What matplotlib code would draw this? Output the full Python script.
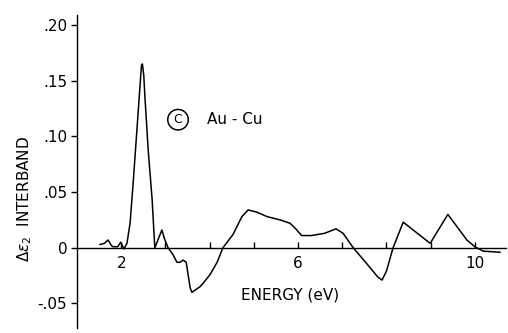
import matplotlib
matplotlib.use("Agg")
import matplotlib.pyplot as plt

# interband difference spectrum, Au-Cu
energy = [1.52, 1.62, 1.70, 1.78, 1.81, 1.92, 1.99, 2.06, 2.13, 2.20,
          2.27, 2.35, 2.43, 2.46, 2.48, 2.51, 2.54, 2.61, 2.70, 2.76, 2.84,
          2.92, 2.98, 3.06, 3.17, 3.26, 3.33, 3.40, 3.47, 3.49, 3.56,
          3.60, 3.67, 3.78, 3.85, 4.01, 4.17, 4.30, 4.53, 4.73, 4.87,
          5.07, 5.30, 5.60, 5.82, 5.95, 6.08, 6.30, 6.60, 6.86, 7.02,
          7.25, 7.55, 7.80, 7.90, 8.00, 8.15, 8.38, 8.99, 9.39, 9.82,
          10.00, 10.19, 10.57]
d_eps2 = [0.003, 0.004, 0.007, 0.002, 0.001, 0.001, 0.005, -0.001, 0.004, 0.022,
          0.058, 0.103, 0.148, 0.164, 0.165, 0.155, 0.133, 0.088, 0.043, 0.000, 0.008,
          0.016, 0.008, 0.000, -0.006, -0.013, -0.013, -0.011, -0.013, -0.018, -0.036,
          -0.040, -0.038, -0.035, -0.032, -0.024, -0.013, 0.000, 0.012, 0.028, 0.034,
          0.032, 0.028, 0.025, 0.022, 0.017, 0.011, 0.011, 0.013, 0.017, 0.013,
          0.000, -0.014, -0.026, -0.029, -0.021, 0.000, 0.023, 0.004, 0.030, 0.007,
          0.001, -0.003, -0.004]

xticks = [2, 3, 4, 5, 6, 7, 8, 9, 10]
xticklabels = ["2", "", "", "", "6", "", "", "", "10"]
yticks = [-0.05, 0, 0.05, 0.10, 0.15, 0.20]
yticklabels = ["-.05", "0", ".05", ".10", ".15", ".20"]

fig = plt.figure(figsize=(5.08, 3.33), dpi=100)
ax = fig.add_axes([0.1516, 0.015, 0.844, 0.94])

ax.plot(energy, d_eps2, color="black", linewidth=1.1)

ax.set_xlim(1.0, 10.7)
ax.set_ylim(-0.072, 0.209)

for s in ["top", "right"]:
    ax.spines[s].set_visible(False)
ax.spines["bottom"].set_position(("data", 0))
ax.spines["left"].set_linewidth(1.0)
ax.spines["bottom"].set_linewidth(1.0)

ax.set_xticks(xticks)
ax.set_xticklabels(xticklabels)
ax.set_yticks(yticks)
ax.set_yticklabels(yticklabels)
ax.tick_params(axis="x", direction="in", length=4, width=1.0, pad=6, labelsize=11)
ax.tick_params(axis="y", direction="out", length=4, width=1.0, pad=3, labelsize=11)

ax.text(3.285, 0.115, "C", fontsize=9, ha="center", va="center",
        bbox=dict(boxstyle="circle,pad=0.3", fc="white", ec="black", lw=1.1))
ax.text(3.94, 0.115, "Au - Cu", fontsize=11, ha="left", va="center")

fig.text(290 / 508, 1 - 295 / 333, "ENERGY (eV)", fontsize=11, ha="center", va="center")
fig.text(25 / 508, 1 - 199 / 333, r"$\Delta\epsilon_2$  INTERBAND", fontsize=11,
         rotation=90, ha="center", va="center")

fig.savefig("out.png", dpi=100)
